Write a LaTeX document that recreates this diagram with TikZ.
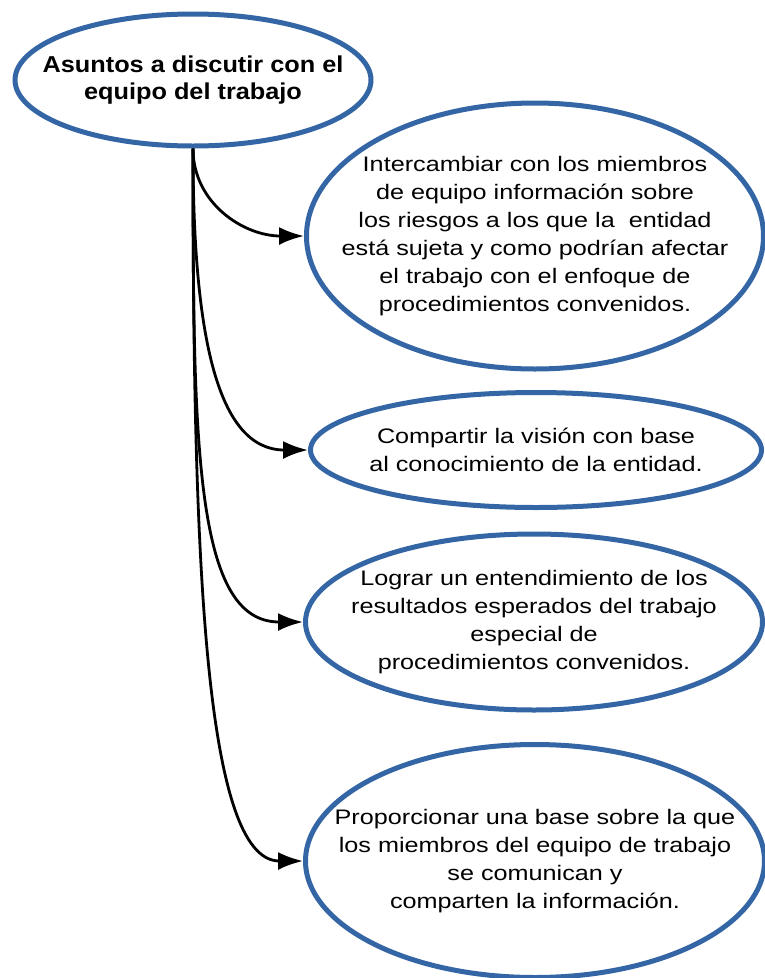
\documentclass[tikz,border=0pt]{standalone}
\usepackage{fontspec}
\setmainfont{Liberation Sans}[FakeStretch=1.2]
\newfontfamily\titlefont{Liberation Sans}[FakeStretch=1.1]
\usetikzlibrary{shapes.geometric, arrows.meta}
\definecolor{ovalblue}{RGB}{52,101,164}

\begin{document}
\begin{tikzpicture}[x=1pt, y=-1pt, >={Latex[length=25pt,width=18pt]},
  oval/.style={ellipse, draw=ovalblue, line width=5pt, inner sep=0pt},
  ovaltext/.style={align=center, inner sep=0pt, font=\fontsize{21}{28}\selectfont},
  link/.style={->, line width=2.8pt}]
  \useasboundingbox (0,0) rectangle (765,978);
  % ovals
  \node [oval, minimum width=356pt, minimum height=132pt] (tema) at (193,80) {};
  \node [oval, minimum width=457pt, minimum height=266pt] (riesgos) at (535,236) {};
  \node [oval, minimum width=451pt, minimum height=115pt] (vision) at (536,450) {};
  \node [oval, minimum width=457pt, minimum height=176pt] (resultados) at (534,622) {};
  \node [oval, minimum width=459pt, minimum height=233pt] (base) at (535,861) {};
  % texts
  \node [ovaltext, font=\titlefont\bfseries\fontsize{23}{27}\selectfont] (tema-txt) at (tema)
    {Asuntos a discutir con el\\ equipo del trabajo};
  \node [ovaltext] (riesgos-txt) at (riesgos)
    {Intercambiar con los miembros\\ de equipo información sobre\\ los riesgos a los que la \ entidad\\
     está sujeta y como podrían afectar\\ el trabajo con el enfoque de\\ procedimientos convenidos.};
  \node [ovaltext] (vision-txt) at (vision)
    {Compartir la visión con base\\ al conocimiento de la entidad.};
  \node [ovaltext] (resultados-txt) at (resultados)
    {Lograr un entendimiento de los\\ resultados esperados del trabajo\\ especial de\\ procedimientos convenidos.};
  \node [ovaltext] (base-txt) at (base)
    {Proporcionar una base sobre la que\\ los miembros del equipo de trabajo\\ se comunican y\\ comparten la información.};
  % connectors
  \draw [link] (tema.south) .. controls +(0,55) and +(-60,0) .. (riesgos.west);
  \draw [link] (tema.south) .. controls +(0,190) and +(-90,0) .. (vision.west);
  \draw [link] (tema.south) .. controls +(0,300) and +(-108,0) .. (resultados.west);
  \draw [link] (tema.south) .. controls +(0,400) and +(-100,0) .. (base.west);
\end{tikzpicture}
\end{document}
